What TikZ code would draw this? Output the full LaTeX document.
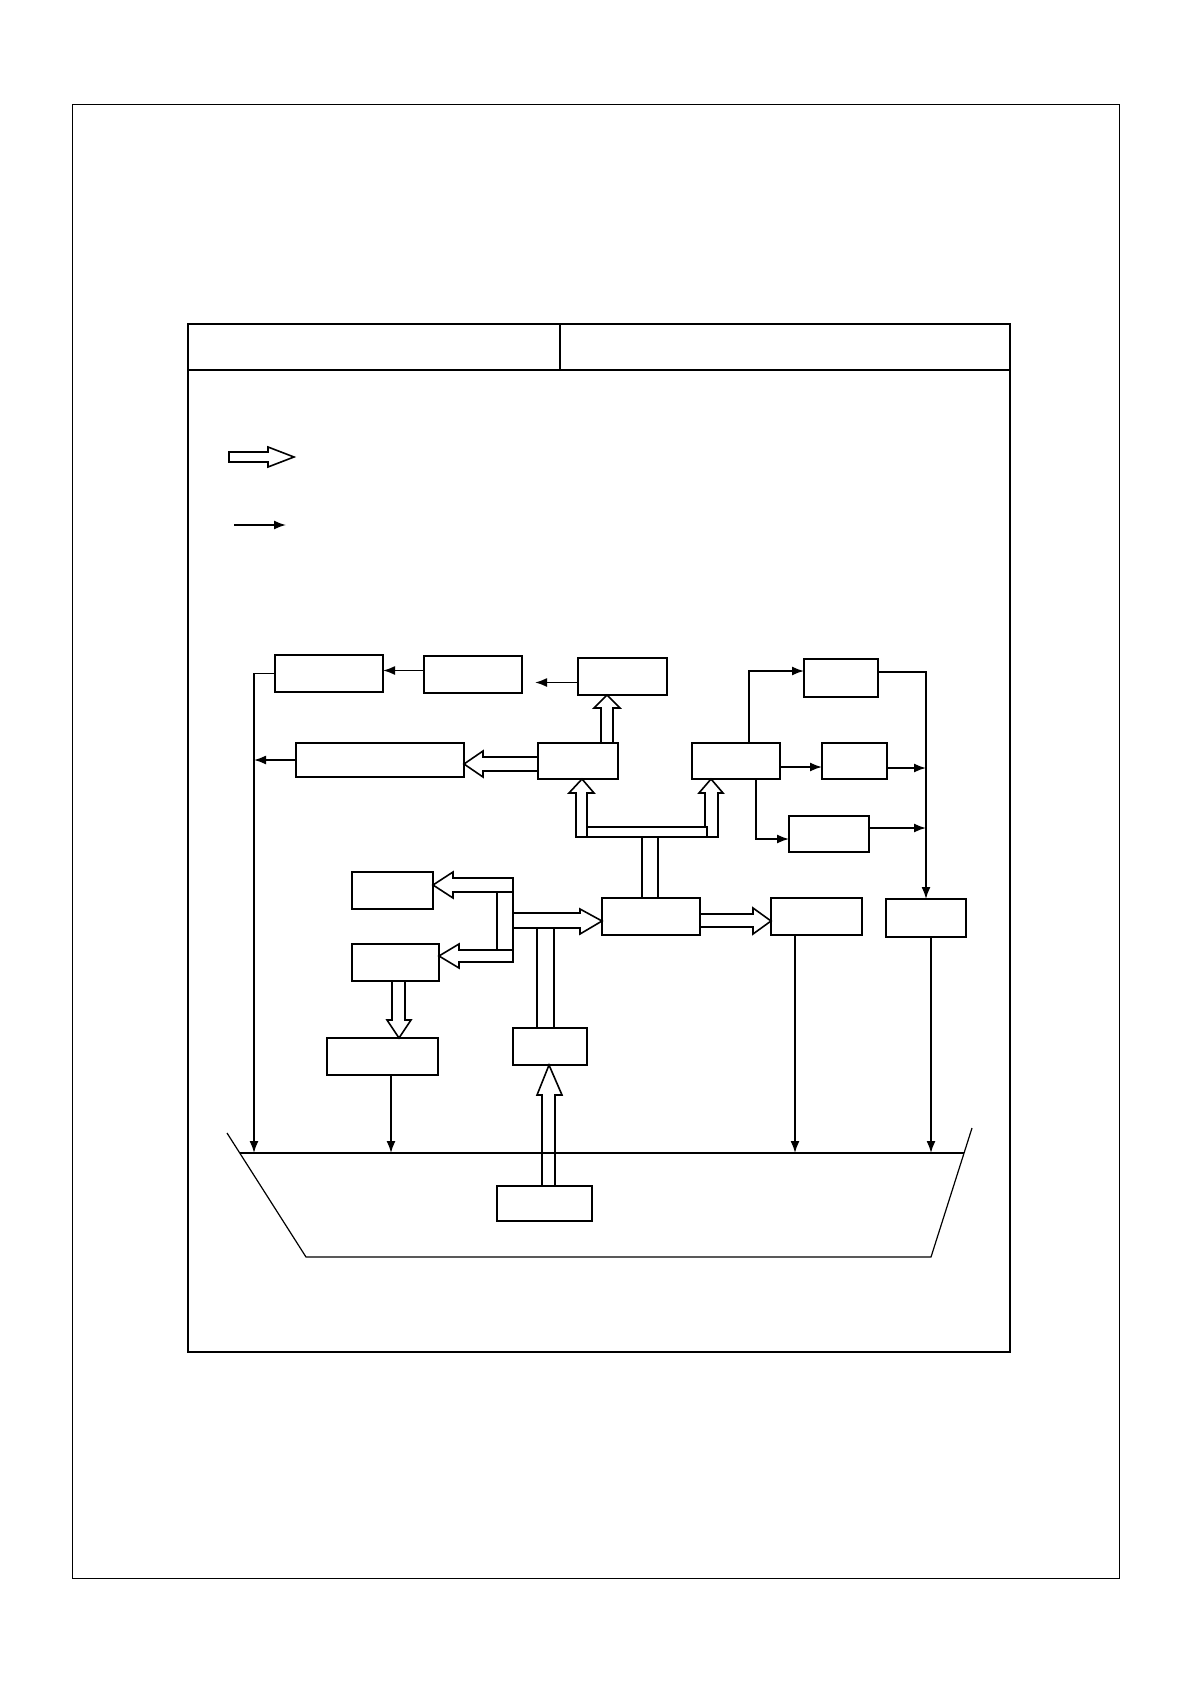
\documentclass[tikz,border=0pt]{standalone}
\usepackage{tikz}
\usetikzlibrary{arrows.meta}

% block from its two corners (in picture units)
\newcommand{\blk}[5]{\node[box, minimum width={(#4-#2)*0.5pt}, minimum height={(#5-#3)*0.5pt}] (#1) at ({(#2+#4)/2},{(#3+#5)/2}) {};}

\begin{document}
\begin{tikzpicture}[x=0.5pt, y=-0.5pt, >={Latex[length=6pt,width=4.5pt]},
		box/.style={draw, line width=0.8pt, inner sep=0pt, outer sep=0pt},
		link/.style={->, line width=0.8pt},
		hollow/.style={draw, line width=0.8pt, line join=miter}]
		\useasboundingbox (0,0) rectangle (1190,1684);
		% ---------------- frame and table ----------------
		\draw[line width=0.5pt] (72,105) rectangle (1119,1578);
		\draw[line width=0.8pt] (188,324) rectangle (1010,1352);
		\draw[line width=0.8pt] (188,370) -- (1010,370) (560,324) -- (560,370);
		% ---------------- legend ----------------
		\draw[hollow] (229,452) -- (268,452) -- (268,447) -- (294,457) -- (268,467) -- (268,462) -- (229,462) -- cycle;
		\coordinate (l1) at (234,525);
		\coordinate (l2) at (286,525);
		\draw[link] (l1) -- (l2);
		% ---------------- blocks ----------------
		\blk{A}{275}{655}{383}{692}
		\blk{B}{424}{656}{522}{693}
		\blk{C}{578}{658}{667}{695}
		\blk{D}{296}{743}{464}{777}
		\blk{E}{538}{743}{618}{779}
		\blk{F}{804}{659}{878}{697}
		\blk{G}{692}{743}{780}{779}
		\blk{H}{822}{743}{887}{779}
		\blk{I}{789}{816}{869}{852}
		\blk{J}{886}{899}{966}{937}
		\blk{K}{771}{898}{862}{935}
		\blk{L}{602}{898}{700}{935}
		\blk{M}{352}{872}{433}{909}
		\blk{N}{352}{944}{439}{981}
		\blk{O}{327}{1038}{438}{1075}
		\blk{P}{513}{1028}{587}{1065}
		\blk{Q}{497}{1186}{592}{1221}
		% ---------------- tank ----------------
		\draw[line width=0.6pt] (227,1133) -- (306,1257) -- (931,1257) -- (972,1128);
		\coordinate (wl) at (240,1153);
		\coordinate (wr) at (964,1153);
		\draw[line width=0.9pt] (wl) -- (wr);
		\coordinate (w1) at (254,1153);
		\coordinate (w2) at (391,1153);
		\coordinate (w3) at (795,1153);
		\coordinate (w4) at (931,1153);
		\coordinate (bus) at (926,672);
		% ---------------- thin links ----------------
		\draw[link] ([yshift=-3pt]C.west) -- ([yshift=-3pt]C.west -| 535,0);
		\draw[link] ([yshift=2pt]B.west) -- ([yshift=2pt]B.west -| A.east);
		\draw[link] (A.west) -| (w1);
		\draw[link] (D.west) -- (D.west -| w1);
		\draw[link] (G.north -| 749,0) |- ([yshift=3.5pt]F.west);
		\draw[link] ([yshift=-3pt]G.east) -- ([yshift=-3pt]H.west);
		\draw[link] (G.south -| 756,0) |- ([yshift=-2.5pt]I.west);
		\draw[link] ([yshift=3pt]F.east) -- (bus) -- (J.north);
		\draw[link] ([yshift=-3.5pt]H.east) -- ([yshift=-3.5pt]H.east -| bus);
		\draw[link] ([yshift=3pt]I.east) -- ([yshift=3pt]I.east -| bus);
		\draw[link] (K.south -| w3) -- (w3);
		\draw[link] (J.south -| w4) -- (w4);
		\draw[link] (O.south -| w2) -- (w2);
		% ---------------- hollow links ----------------
		% E up to C, E left to D
		\draw[hollow] (601,743) -- (601,708) -- (594,708) -- (607,695) -- (620,708) -- (613,708) -- (613,743);
		\draw[hollow] (538,757) -- (483,757) -- (483,751) -- (464,764) -- (483,777) -- (483,771) -- (538,771);
		% L up to E and G
		\draw[hollow] (642,898) -- (642,837) -- (576,837) -- (576,793) -- (569,793) -- (582,779) -- (594,793)
			-- (587,793) -- (587,827) -- (705,827) -- (705,793) -- (699,793) -- (711,779) -- (723,793)
			-- (718,793) -- (718,837) -- (658,837) -- (658,898);
		\draw[hollow] (587,827) rectangle (707,837);
		% L right to K
		\draw[hollow] (700,914) -- (753,914) -- (753,908) -- (771,921) -- (753,934) -- (753,927) -- (700,927);
		% P up to M, N and L
		\draw[hollow] (513,878) -- (453,878) -- (453,872) -- (433,885) -- (453,898) -- (453,892) -- (513,892) -- cycle;
		\draw[hollow] (513,950) -- (459,950) -- (459,944) -- (439,956) -- (459,968) -- (459,962) -- (513,962) -- cycle;
		\draw[hollow] (497,892) -- (497,950) (513,892) -- (513,950);
		\draw[hollow] (513,913) -- (580,913) -- (580,909) -- (602,921) -- (580,934) -- (580,928) -- (513,928);
		\draw[hollow] (537,1028) -- (537,928) (554,928) -- (554,1028);
		% N down to O
		\draw[hollow] (392,981) -- (392,1020) -- (387,1020) -- (399,1038) -- (411,1020) -- (405,1020) -- (405,981);
		% Q up to P
		\draw[hollow] (542,1186) -- (542,1095) -- (537,1095) -- (549,1065) -- (562,1095) -- (555,1095) -- (555,1186);
	\end{tikzpicture}
\end{document}
